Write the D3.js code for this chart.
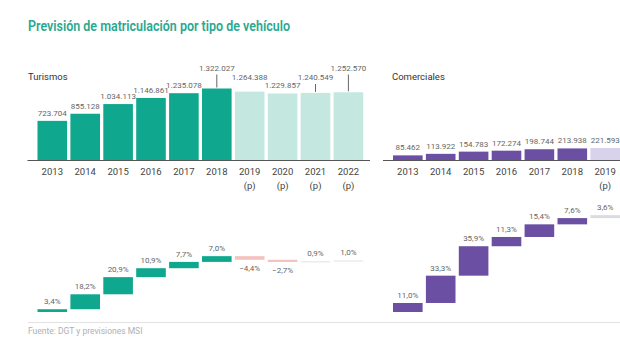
<!DOCTYPE html>
<html>
<head>
<meta charset="utf-8">
<script src="https://cdn.jsdelivr.net/npm/d3@7"></script>
<style>
  body { margin: 0; background: #fff; }
  svg { display: block; font-family: Roboto, "Noto Sans", sans-serif; }
</style>
</head>
<body>
<svg id="chart" width="620" height="347"></svg>
<script>
// data
const turYears = ["2013", "2014", "2015", "2016", "2017", "2018", "2019", "2020", "2021", "2022"]
const turForecast = [false, false, false, false, false, false, true, true, true, true]
const turValues = [723704, 855128, 1034113, 1146861, 1235078, 1322027, 1264388, 1229857, 1240549, 1252570]
const turGrowth = [3.4, 18.2, 20.9, 10.9, 7.7, 7.0, -4.4, -2.7, 0.9, 1.0]

const comYears = ["2013", "2014", "2015", "2016", "2017", "2018", "2019"]
const comForecast = [false, false, false, false, false, false, true]
const comValues = [85462, 113922, 154783, 172274, 198744, 213938, 221593]
const comGrowth = [11.0, 33.3, 35.9, 11.3, 15.4, 7.6, 3.6]

// label stacking for the crowded turismos values (0 = just above bar)
const turLabelLevel = [0, 0, 0, 0, 0, 2, 1, 0, 1, 2]
const turLeader = [false, false, false, false, false, true, false, false, true, true]

const svg = d3.select("#chart")

const fmtNum = d3.formatLocale({decimal: ",", thousands: ".", grouping: [3], currency: ["", "€"]}).format(",d")
const fmtPct = v => d3.format(".1f")(v).replace(".", ",") + "%"

// title
svg.append("text")
    .attr("x", 28).attr("y", 31)
    .attr("fill", "#2ba891")
    .style("font-size", "14px").style("font-weight", 600)
    .attr("textLength", 262).attr("lengthAdjust", "spacingAndGlyphs")
    .text("Previsión de matriculación por tipo de vehículo")

// shared scales
const yBar = d3.scaleLinear().domain([0, 1322027]).range([160, 88.5])
const yWf = d3.scaleLinear().domain([0, 100]).range([312, 230])

function drawPanel(opt) {
    const x = d3.scaleBand().domain(opt.years).range(opt.xRange)
        .paddingInner(0.1).paddingOuter(0.05)
    const g = svg.append("g")

    g.append("text")
        .attr("x", opt.labelX).attr("y", 80)
        .attr("fill", "#333").style("font-size", "9.5px")
        .text(opt.name)

    // axis line
    g.append("line")
        .attr("x1", opt.axisX[0]).attr("x2", opt.axisX[1])
        .attr("y1", yBar(0) + 0.5).attr("y2", yBar(0) + 0.5)
        .attr("stroke", "#555").attr("stroke-width", 1.2)

    // volume bars
    g.selectAll(".bar").data(opt.values).join("rect")
        .attr("x", (d, i) => x(opt.years[i]))
        .attr("width", x.bandwidth())
        .attr("y", d => yBar(d))
        .attr("height", d => yBar(0) - yBar(d))
        .attr("fill", (d, i) => opt.forecast[i] ? opt.light : opt.dark)

    // value labels
    opt.values.forEach((d, i) => {
        const cx = x(opt.years[i]) + x.bandwidth() / 2
        const lvl = opt.levels ? opt.levels[i] : 0
        const ty = lvl === 0 ? yBar(d) - 5 : (lvl === 1 ? 80 : 70.5)
        g.append("text")
            .attr("x", cx).attr("y", ty)
            .attr("text-anchor", "middle")
            .attr("fill", "#666").style("font-size", "8px")
            .text(fmtNum(d))
        if (opt.leader && opt.leader[i]) {
            g.append("line")
                .attr("x1", cx).attr("x2", cx)
                .attr("y1", ty + 4).attr("y2", yBar(d) - 1)
                .attr("stroke", "#666").attr("stroke-width", 1)
        }
    })

    // year labels
    opt.years.forEach((yr, i) => {
        const cx = x(yr) + x.bandwidth() / 2
        g.append("text")
            .attr("x", cx).attr("y", 175)
            .attr("text-anchor", "middle")
            .attr("fill", "#444").style("font-size", "9.5px")
            .text(yr)
        if (opt.forecast[i]) {
            g.append("text")
                .attr("x", cx).attr("y", 189)
                .attr("text-anchor", "middle")
                .attr("fill", "#444").style("font-size", "9.5px")
                .text("(p)")
        }
    })

    // waterfall of yearly growth
    const cum = d3.cumsum(opt.growth)
    opt.growth.forEach((g0, i) => {
        const end = cum[i], start = end - g0
        const top = yWf(Math.max(start, end)), bot = yWf(Math.min(start, end))
        const h = Math.max(bot - top, 1.2)
        let col = opt.dark
        if (opt.forecast[i]) col = g0 < 0 ? "#f4c2bf" : opt.wfLight
        const cx = x(opt.years[i]) + x.bandwidth() / 2
        g.append("rect")
            .attr("x", x(opt.years[i])).attr("width", x.bandwidth())
            .attr("y", top).attr("height", h)
            .attr("fill", col)
        g.append("text")
            .attr("x", cx).attr("y", g0 < 0 ? top + h + 11 : top - 5)
            .attr("text-anchor", "middle")
            .attr("fill", "#666").style("font-size", "8px")
            .text(fmtPct(g0))
    })
}

drawPanel({
    name: "Turismos", labelX: 28,
    years: turYears, values: turValues, growth: turGrowth, forecast: turForecast,
    levels: turLabelLevel, leader: turLeader,
    xRange: [35.85, 364.85], axisX: [27.5, 370],
    dark: "#0fa88f", light: "#c4e7e0", wfLight: "#e4e9e8"
})

drawPanel({
    name: "Comerciales", labelX: 392,
    years: comYears, values: comValues, growth: comGrowth, forecast: comForecast,
    xRange: [391.35, 621.65], axisX: [383, 620],
    dark: "#6a4fa3", light: "#d8d2ea", wfLight: "#dcdbe3"
})

// source
svg.append("line")
    .attr("x1", 28).attr("x2", 620).attr("y1", 322.5).attr("y2", 322.5)
    .attr("stroke", "#e2e2e2")
svg.append("text")
    .attr("x", 28).attr("y", 334)
    .attr("fill", "#b0b0b0").style("font-size", "8.5px")
    .text("Fuente: DGT y previsiones MSI")
</script>
</body>
</html>
